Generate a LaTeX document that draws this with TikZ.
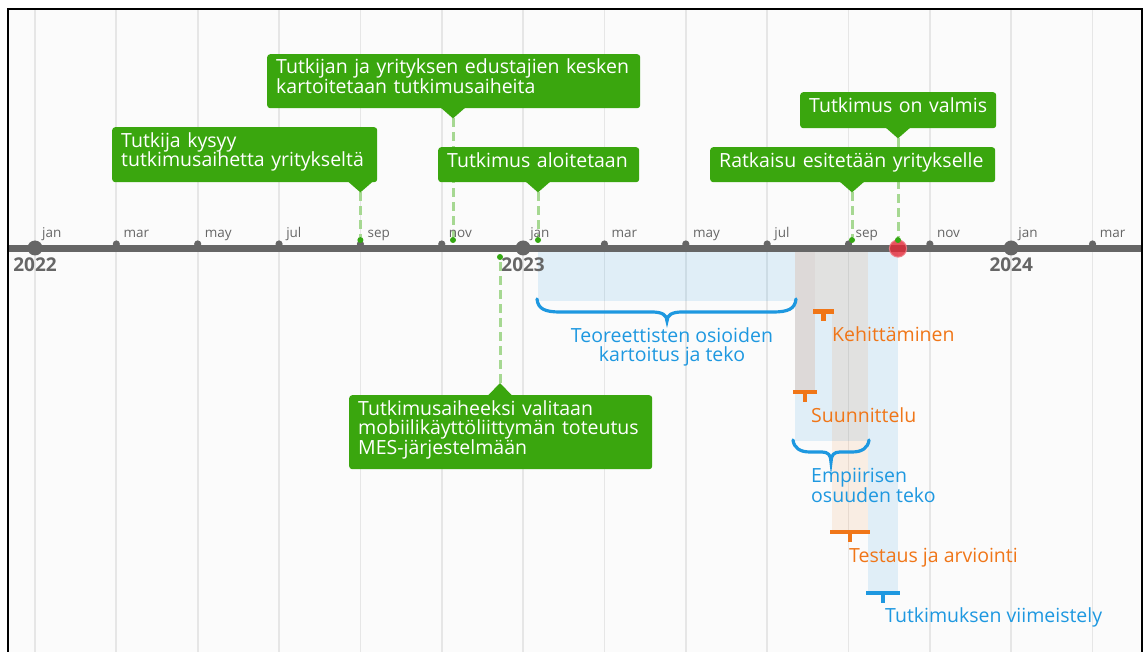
\documentclass[tikz,border=0pt]{standalone}
\usepackage{fontspec}
\setmainfont{Open Sans}
\usetikzlibrary{calc}
\definecolor{evgreen}{RGB}{58,166,14}
\definecolor{dashgreen}{RGB}{166,216,146}
\definecolor{dotgreen}{RGB}{52,168,18}
\definecolor{spanblue}{RGB}{30,152,224}
\definecolor{spanorange}{RGB}{240,118,24}
\definecolor{planbrown}{RGB}{205,100,45}
\definecolor{axisgray}{RGB}{102,102,102}
\definecolor{gridgray}{RGB}{230,230,230}
\definecolor{bggray}{RGB}{251,251,251}
\definecolor{markred}{RGB}{228,40,55}
\pgfdeclarelayer{baselayer}
\pgfdeclarelayer{midlayer}
\pgfsetlayers{baselayer,midlayer,main}
\newcommand{\spanT}[5]{%
  \draw[tmark,#1] (#2,#4) -- (#3,#4);
  \draw[tmark,#1] ({(#2+#3)/2},#4) -- ({(#2+#3)/2},#4+#5);}
\newcommand{\lastd}{\rule[-10pt]{0pt}{10pt}}
\begin{document}
\begin{tikzpicture}[x=1pt,y=-1pt,
  gridline/.style={draw=gridgray,line width=1.8pt},
  axisline/.style={draw=axisgray,line width=6.5pt},
  evbox/.style={anchor=north west,fill=evgreen,rounded corners=3pt,text=white,align=left,
    inner xsep=9pt,inner ysep=0pt,font=\fontsize{19.5}{19.5}\selectfont},
  evdot/.style={circle,fill=dotgreen,inner sep=0pt,minimum size=6pt},
  evdash/.style={draw=dashgreen,line width=3pt,dash pattern=on 9pt off 5pt},
  monthlbl/.style={anchor=base west,inner sep=0pt,text=axisgray,font=\fontsize{13.5}{13.5}\selectfont},
  yearlbl/.style={anchor=base,inner sep=0pt,text=axisgray,font=\fontsize{19}{19}\selectfont\bfseries},
  bluebar/.style={fill=spanblue,fill opacity=0.12},
  orangebar/.style={fill=spanorange,fill opacity=0.10},
  tmark/.style={line width=4.2pt},
  bracestyle/.style={draw=spanblue,line width=3.2pt,line cap=round},
  spanlbl/.style={inner sep=0pt,font=\fontsize{19.5}{18.5}\selectfont}]
\useasboundingbox (0,0) rectangle (1144,652);
\begin{pgfonlayer}{baselayer}
\fill[white] (0,0) rectangle (1144,652);
\fill[bggray] (8,9) rectangle (1142,652);
% grid
\foreach \k in {0,...,13} \draw[gridline] ({35+81.35*\k},9) -- ({35+81.35*\k},652);
% bars
\fill[bluebar] (538,251) rectangle (795,301);
\fill[bluebar] (795,251) rectangle (868,441);
\fill[fill=planbrown,fill opacity=0.15] (795,251) rectangle (815,392);
\fill[orangebar] (815,251) rectangle (832,311);
\fill[orangebar] (832,251) rectangle (868,532);
\fill[bluebar] (868,251) rectangle (898,593);
% frame
\draw[black,line width=2.2pt] (8,652) -- (8,9) -- (1142,9) -- (1142,652);
% axis
\draw[axisline] (9,248.5) -- (1141,248.5);
\end{pgfonlayer}
\foreach \k/\m in {1/mar,2/may,3/jul,4/sep,5/nov,7/mar,8/may,9/jul,10/sep,11/nov,13/mar}{
  \fill[axisgray] ({35+81.35*\k},244) circle (3.6);
  \node[monthlbl] (m\k) at ({35+81.35*\k+7},238) {\m};}
\foreach \k/\y in {0/2022,6/2023,12/2024}{
  \fill[axisgray] ({35+81.35*\k},248) circle (7.5);
  \node[monthlbl] (m\k) at ({35+81.35*\k+7},238) {jan};
  \node[yearlbl] (y\k) at ({35+81.35*\k},272) {\y};}
% red current marker
\filldraw[fill=markred,draw=markred!60!white,line width=1pt,fill opacity=0.8,draw opacity=0.9] (898,248.5) circle (8.6);
% braces
\draw[bracestyle] (537,299) .. controls (538,309) and (545,312) .. (560,312) -- (652,312)
  .. controls (662,312) and (667,315) .. (667,321) .. controls (667,315) and (672,312) .. (682,312)
  -- (773,312) .. controls (788,312) and (795,309) .. (796,299);
\draw[bracestyle] (793,440) .. controls (794,448) and (800,452) .. (810,452) -- (822,452)
  .. controls (828,452) and (831,455) .. (831,462) .. controls (831,455) and (834,452) .. (840,452)
  -- (852,452) .. controls (862,452) and (868,448) .. (869,440);
% span markers
\spanT{spanorange}{793}{817}{392}{10}
\spanT{spanorange}{813}{834}{311.5}{10}
\spanT{spanorange}{830}{870}{532}{10}
\spanT{spanblue}{866}{900}{593}{10}
% span labels
\node[spanlbl,anchor=north,align=center,text=spanblue] (lteo) at (672,327.5) {Teoreettisten osioiden\\kartoitus ja teko};
\node[spanlbl,anchor=base west,text=spanorange] (lkeh) at (832,342) {Kehittäminen};
\node[spanlbl,anchor=base west,text=spanorange] (lsuu) at (811,422) {Suunnittelu};
\node[spanlbl,anchor=north west,align=left,text=spanblue] (lemp) at (811,467.5) {Empiirisen\\osuuden teko};
\node[spanlbl,anchor=base west,text=spanorange] (ltes) at (849,562) {Testaus ja arviointi};
\node[spanlbl,anchor=base west,text=spanblue] (lvii) at (885,622) {Tutkimuksen viimeistely};
% event dots
\node[evdot] (d1) at (360.4,240) {};
\node[evdot] (d2) at (453,240) {};
\node[evdot] (d3) at (538,240) {};
\node[evdot] (d4) at (852,240) {};
\node[evdot] (d5) at (898,240) {};
\node[evdot] (d6) at (500,257) {};
% event boxes
\node[evbox,minimum width=265pt,minimum height=55pt,text width=247pt] (b1) at (112,127) {Tutkija kysyy\\tutkimusaihetta yritykseltä\lastd};
\node[evbox,minimum width=373pt,minimum height=54pt,text width=355pt] (b2) at (267,54) {Tutkijan ja yrityksen edustajien kesken\\kartoitetaan tutkimusaiheita\lastd};
\node[evbox,minimum width=201pt,minimum height=35pt,text width=183pt] (b3) at (438,147) {Tutkimus aloitetaan\lastd};
\node[evbox,minimum width=285pt,minimum height=35pt,text width=267pt] (b4) at (710,147) {Ratkaisu esitetään yritykselle\lastd};
\node[evbox,minimum width=196pt,minimum height=36pt,text width=178pt] (b5) at (800,92) {Tutkimus on valmis\lastd};
\node[evbox,minimum width=303pt,minimum height=74pt,text width=285pt] (b6) at (349,395) {Tutkimusaiheeksi valitaan\\mobiilikäyttöliittymän toteutus\\MES-järjestelmään\lastd};
% pointers and dashed connectors (connectors kept beneath the boxes)
\foreach \i in {1,...,5}{
  \coordinate (t\i) at (d\i |- b\i.south);
  \coordinate (p\i) at ($(t\i)+(0,10)$);
  \fill[evgreen] ($(t\i)+(-12,-0.5)$) -- (p\i) -- ($(t\i)+(12,-0.5)$) -- cycle;
  \begin{pgfonlayer}{midlayer}
  \draw[evdash] (p\i) -- (d\i);
  \end{pgfonlayer}}
\coordinate (t6) at (d6 |- b6.north);
\coordinate (p6) at ($(t6)+(0,-12)$);
\fill[evgreen] ($(t6)+(-12,0.5)$) -- (p6) -- ($(t6)+(12,0.5)$) -- cycle;
\begin{pgfonlayer}{midlayer}
\draw[evdash] (p6) -- (d6);
\end{pgfonlayer}
\end{tikzpicture}
\end{document}
